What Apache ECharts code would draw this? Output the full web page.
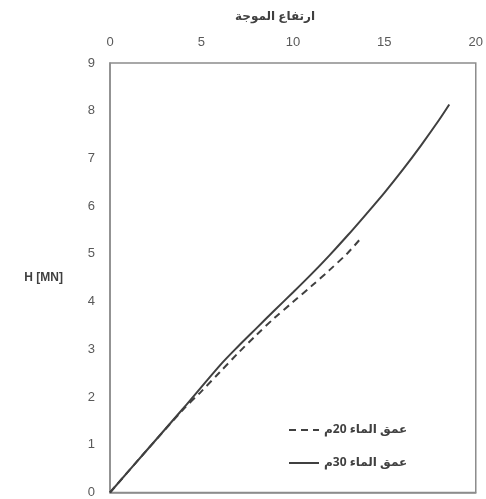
<!DOCTYPE html>
<html>
<head>
<meta charset="utf-8">
<script src="https://cdn.jsdelivr.net/npm/echarts@6/dist/echarts.min.js"></script>
<style>html,body{margin:0;padding:0;background:#fff}#c{width:486px;height:499px}</style>
</head>
<body>
<div id="c"></div>
<script>
var xTitle = 'ارتفاع الموجة';
var yTitle = 'H [MN]';
var seriesNames = ['عمق الماء 20م', 'عمق الماء 30م'];
var depth20 = [[0,0],[2,0.88],[4,1.74],[5,2.12],[6,2.52],[7,2.92],[8,3.3],[9,3.66],[10,3.99],[11,4.32],[12,4.66],[13,5.02],[13.7,5.32]];
var depth30 = [[0,0],[2,0.88],[4,1.76],[6,2.66],[7,3.06],[8,3.44],[9,3.82],[10,4.19],[11,4.57],[12,4.97],[13,5.39],[14,5.83],[15,6.28],[16,6.76],[17,7.27],[18,7.81],[18.55,8.13]];

var chart = echarts.init(document.getElementById('c'));
var labelStyle = {color:'#595959', fontSize:13, fontFamily:'Liberation Sans, Arial, sans-serif'};
chart.setOption({
  animation:false,
  title:{text:xTitle, left:270, top:6, textAlign:'center',
    textStyle:{fontSize:12, fontWeight:'bold', color:'#404040', fontFamily:'Noto Sans, DejaVu Sans, sans-serif'}},
  grid:{left:110, right:10, top:63, bottom:5, show:true, borderColor:'#8c8c8c', borderWidth:1.5},
  legend:{orient:'vertical', left:283, top:419, itemWidth:30, itemHeight:12, itemGap:21,
    itemStyle:{opacity:0},
    textStyle:{fontSize:12, fontWeight:'bold', color:'#404040', fontFamily:'Noto Sans, DejaVu Sans, sans-serif'},
    data:seriesNames},
  xAxis:{type:'value', position:'top', min:0, max:20, interval:5,
    axisLine:{show:true, lineStyle:{color:'#8c8c8c', width:1.5}},
    axisTick:{show:false}, splitLine:{show:false},
    axisLabel:Object.assign({margin:14}, labelStyle)},
  yAxis:{type:'value', min:0, max:9, interval:1,
    name:yTitle, nameLocation:'middle', nameRotate:0, nameGap:47,
    nameTextStyle:{fontSize:12, fontWeight:'bold', color:'#404040', fontFamily:'Liberation Sans, Arial, sans-serif'},
    axisLine:{show:true, lineStyle:{color:'#8c8c8c', width:1.5}},
    axisTick:{show:false}, splitLine:{show:false},
    axisLabel:Object.assign({margin:15}, labelStyle)},
  series:[
    {name:seriesNames[0], type:'line', data:depth20, symbol:'none', smooth:0.3,
      lineStyle:{color:'#404040', width:2, type:[7,5]}, itemStyle:{color:'#404040'}},
    {name:seriesNames[1], type:'line', data:depth30, symbol:'none', smooth:0.3,
      lineStyle:{color:'#404040', width:2, type:'solid'}, itemStyle:{color:'#404040'}}
  ]
});
</script>
</body>
</html>
